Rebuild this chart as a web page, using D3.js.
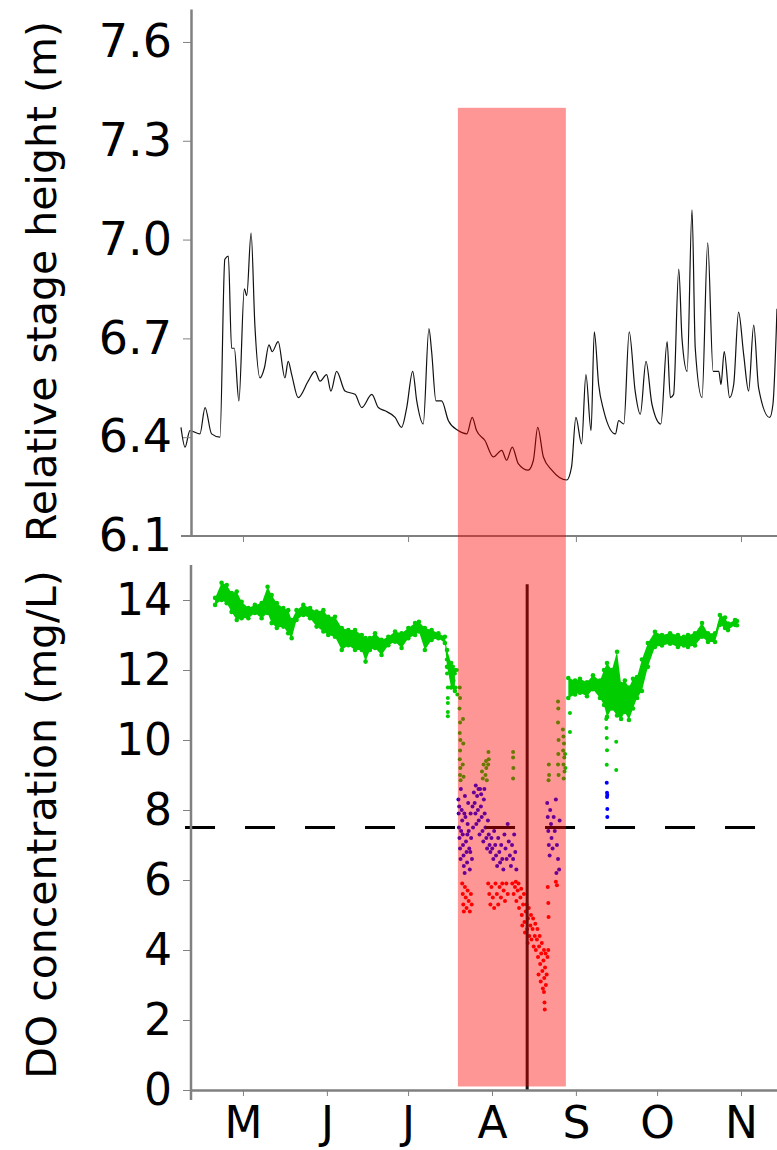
<!DOCTYPE html>
<html>
<head>
<meta charset="utf-8">
<script src="https://cdn.jsdelivr.net/npm/d3@7"></script>
<style>
  body { margin: 0; background: #fff; }
  svg { display: block; }
  .axis text { font-family: 'DejaVu Sans', sans-serif; fill: #000; }
  .axis path, .axis line { stroke: #808080; }
</style>
</head>
<body>
<div id="chart"></div>
<script>
// day of year (2015) and relative stage height (m)
const stageSeries = [
  [98.1, 6.43], [99.6, 6.37], [101.4, 6.42], [105.1, 6.41], [107.0, 6.49], [109.4, 6.41],
  [112.5, 6.40], [114.3, 6.94], [115.6, 6.95], [116.8, 6.67], [117.8, 6.67], [119.5, 6.51],
  [121.5, 6.85], [122.4, 6.83], [124.0, 7.02], [125.4, 6.74], [127.3, 6.58], [128.9, 6.61],
  [130.6, 6.68], [131.8, 6.66], [134.0, 6.69], [136.5, 6.58], [137.7, 6.63], [139.0, 6.59],
  [141.4, 6.52], [145.1, 6.57], [147.6, 6.60], [149.5, 6.57], [151.9, 6.59], [153.5, 6.54],
  [155.6, 6.60], [158.7, 6.54], [162.4, 6.53], [164.9, 6.49], [168.6, 6.53], [171.0, 6.49],
  [173.5, 6.48], [177.2, 6.46], [179.6, 6.43], [181.5, 6.49], [183.7, 6.60], [185.2, 6.51],
  [187.6, 6.44], [189.7, 6.73], [190.7, 6.66], [192.3, 6.51], [194.4, 6.51], [196.9, 6.45],
  [200.5, 6.42], [203.7, 6.41], [205.7, 6.46], [207.3, 6.42], [210.4, 6.39], [213.5, 6.34],
  [216.6, 6.36], [218.4, 6.33], [220.5, 6.37], [222.7, 6.32], [226.4, 6.30], [228.3, 6.33],
  [229.9, 6.43], [232.0, 6.34], [235.1, 6.30], [240.6, 6.27], [242.4, 6.31], [244.0, 6.46],
  [246.1, 6.38], [247.7, 6.59], [249.6, 6.42], [250.8, 6.72], [252.4, 6.56], [254.3, 6.48],
  [258.6, 6.41], [259.8, 6.45], [261.7, 6.44], [263.7, 6.72], [265.9, 6.54], [267.8, 6.47],
  [269.9, 6.63], [272.1, 6.50], [275.4, 6.44], [277.7, 6.69], [278.9, 6.52], [280.1, 6.53],
  [282.0, 6.91], [283.2, 6.70], [285.1, 6.60], [286.9, 7.09], [288.1, 6.67], [290.6, 6.52],
  [292.7, 6.99], [294.7, 6.60], [296.8, 6.60], [297.6, 6.56], [298.8, 6.66], [300.8, 6.52],
  [302.3, 6.56], [304.1, 6.78], [306.0, 6.65], [307.8, 6.54], [309.7, 6.74], [311.5, 6.55],
  [315.6, 6.46], [316.8, 6.50], [318.3, 6.79]
]

// dense DO readings: [day, low, high] (mg/L)
const doBandSpring = [
  [110.7, 13.86, 14.06], [113.1, 14.0, 14.49], [115.0, 13.91, 14.43], [116.8, 13.66, 14.2],
  [118.7, 13.43, 14.24], [120.5, 13.48, 13.95], [123.0, 13.48, 13.77], [125.4, 13.63, 13.86],
  [127.9, 13.48, 13.91], [130.1, 13.63, 14.38], [131.6, 13.34, 14.14], [133.5, 13.2, 13.91],
  [135.9, 13.24, 13.77], [137.7, 13.05, 13.71], [139.0, 12.91, 13.43], [140.8, 13.43, 13.71],
  [143.3, 13.57, 13.86], [145.8, 13.48, 13.77], [148.2, 13.24, 13.67], [150.7, 13.1, 13.71],
  [152.5, 13.0, 13.52], [155.0, 12.95, 13.52], [157.5, 12.57, 13.2], [159.9, 12.71, 13.14],
  [162.4, 12.57, 13.14], [164.9, 12.57, 13.0], [166.3, 12.24, 12.91], [167.9, 12.57, 12.91],
  [169.8, 12.63, 13.05], [172.2, 12.43, 12.86], [174.7, 12.71, 12.95], [177.2, 12.81, 13.1],
  [179.6, 12.63, 13.05], [182.1, 12.91, 13.2], [184.6, 13.0, 13.34], [186.0, 13.1, 13.38],
  [188.2, 12.57, 13.2], [190.7, 12.86, 13.14], [193.2, 12.91, 13.05], [195.6, 12.77, 12.95],
  [196.4, 12.09, 12.57], [197.9, 11.5, 12.2], [199.3, 11.4, 12.0]
]
const doBandAutumn = [
  [241.2, 11.2, 11.77], [243.7, 11.3, 11.7], [245.5, 11.35, 11.75], [248.1, 11.25, 11.65],
  [250.3, 11.45, 11.85], [252.9, 11.2, 11.7], [254.4, 11.0, 12.0], [255.5, 10.66, 12.2],
  [257.3, 10.9, 12.0], [259.2, 10.7, 12.52], [260.7, 10.6, 11.6], [262.1, 10.8, 11.7],
  [263.6, 10.57, 11.5], [265.1, 10.9, 11.75], [266.6, 11.2, 11.8], [268.4, 11.4, 12.3],
  [270.6, 12.09, 12.77], [273.2, 12.66, 13.09], [275.8, 12.7, 13.0], [278.8, 12.75, 13.05],
  [281.7, 12.66, 13.0], [283.9, 12.7, 12.95], [285.4, 12.66, 13.0], [288.0, 12.7, 13.05],
  [290.6, 12.95, 13.34], [292.8, 12.8, 13.05], [295.4, 12.8, 13.05], [297.2, 13.29, 13.57],
  [299.1, 13.2, 13.5], [300.2, 13.14, 13.33], [302.8, 13.29, 13.43], [303.5, 13.28, 13.4]
]

// individual DO readings: [day, mg/L]
const doScatter = [
  [196.3, 12.3], [196.4, 11.9], [196.7, 11.5], [196.7, 11.2], [196.7, 11.06], [196.7, 10.8],
  [196.7, 10.68], [198.6, 12.1], [198.8, 11.7], [199.3, 11.9], [199.6, 11.5], [200.0, 12.0], [200.2, 11.3],
  [201.1, 11.5], [201.2, 11.2], [201.0, 10.9], [201.2, 10.5], [201.1, 10.2], [201.3, 10.0],
  [201.2, 9.7], [201.1, 9.45], [201.3, 9.2], [201.2, 9.0], [201.4, 8.85], [202.3, 10.6],
  [202.4, 9.9], [202.2, 9.3], [202.5, 8.95], [209.3, 9.1], [209.6, 8.9], [210.8, 9.4],
  [210.9, 9.2], [210.6, 9.0], [211.1, 8.85], [211.7, 9.66], [211.8, 9.45], [211.6, 9.3], [209.9, 9.3],
  [220.8, 9.66], [220.8, 9.5], [220.9, 9.2], [220.8, 8.9], [234.0, 9.3], [234.1, 9.0], [233.9, 8.85],
  [237.4, 11.1], [237.5, 10.9], [237.4, 10.5], [237.6, 10.0], [237.5, 9.6], [237.4, 9.3], [237.6, 9.0],
  [239.2, 10.3], [239.4, 10.1], [239.6, 9.9], [239.3, 9.7], [239.7, 9.5], [239.4, 9.3], [239.8, 9.1],
  [239.5, 8.9], [240.0, 9.6], [240.1, 9.2],
  [200.6, 8.3], [200.7, 7.9], [200.8, 7.5], [201.0, 7.2], [201.2, 6.9], [201.4, 6.6], [201.5, 8.6],
  [201.8, 8.0], [202.0, 7.7], [202.2, 7.3], [202.3, 7.0], [202.5, 6.7], [202.6, 6.4], [202.9, 6.2],
  [203.0, 8.4], [203.2, 7.8], [203.4, 7.1], [203.6, 6.8], [203.8, 6.5], [204.0, 7.6], [204.2, 8.2],
  [204.4, 7.4], [204.6, 6.9], [204.8, 6.3], [205.1, 7.9], [205.3, 7.2], [205.6, 6.6], [205.8, 8.1],
  [206.0, 7.5], [200.9, 8.1], [201.6, 7.4], [202.8, 7.9], [203.9, 7.3], [205.0, 6.8],
  [206.3, 8.5], [206.6, 8.2], [206.9, 7.9], [207.2, 7.6], [207.5, 8.4], [207.8, 8.0], [208.1, 7.7],
  [208.4, 7.3], [208.6, 8.6], [208.9, 8.1], [209.2, 7.8], [209.5, 7.4], [209.8, 7.1], [210.0, 8.3],
  [210.3, 7.9], [210.6, 7.5], [210.9, 7.2], [211.2, 6.9], [211.5, 7.7], [211.8, 7.3], [212.1, 7.0],
  [212.4, 6.8], [207.0, 8.7], [208.0, 8.6], [209.0, 8.45], [210.2, 8.6],
  [212.8, 7.2], [213.1, 6.9], [213.5, 6.6], [213.8, 7.4], [214.2, 7.0], [214.5, 6.7], [214.9, 6.4],
  [215.3, 7.2], [215.7, 6.8], [216.0, 6.5], [216.4, 7.0], [216.8, 6.6], [217.2, 6.3], [217.6, 7.3],
  [218.0, 6.9], [218.4, 6.6], [218.8, 7.6], [219.2, 7.1], [219.6, 6.7], [220.0, 6.4], [220.4, 7.0],
  [220.8, 6.6], [221.2, 7.3], [221.6, 6.8], [222.0, 6.3],
  [233.4, 8.2], [233.6, 7.8], [233.8, 7.4], [234.0, 7.0], [234.3, 6.7], [234.5, 8.0], [234.8, 7.6],
  [235.0, 7.2], [235.4, 6.9], [235.8, 7.8], [236.2, 7.4], [236.6, 8.3], [237.0, 7.0], [237.4, 6.6],
  [237.8, 6.3], [238.0, 7.7], [236.8, 6.2],
  [202.0, 5.9], [202.2, 5.6], [202.4, 5.3], [202.6, 5.1], [203.0, 5.8], [203.3, 5.5], [203.6, 5.2],
  [204.0, 5.7], [204.4, 5.4], [204.8, 5.1], [205.2, 5.6], [205.5, 5.3],
  [211.6, 5.9], [212.0, 5.6], [212.4, 5.3], [212.8, 5.8], [213.3, 5.5], [213.8, 5.2], [214.3, 5.9],
  [214.8, 5.6], [215.3, 5.3], [215.8, 5.8], [216.3, 5.5], [216.8, 5.9], [217.3, 5.7], [217.8, 5.4],
  [218.3, 5.9], [218.8, 5.6],
  [220.5, 5.9], [221.0, 5.6], [221.5, 5.8], [222.0, 5.4], [222.5, 5.7], [223.0, 5.2], [223.5, 5.5],
  [224.0, 5.0], [224.5, 5.3], [225.0, 4.8], [225.5, 5.1], [226.0, 4.6], [226.3, 4.9], [226.8, 4.4],
  [227.2, 4.7], [227.6, 4.3], [228.0, 4.6], [228.4, 4.1], [228.8, 4.4], [229.2, 4.0], [229.6, 4.3],
  [230.0, 3.8], [230.4, 4.1], [230.8, 3.6], [231.2, 3.9], [231.6, 3.4], [232.0, 3.7], [232.3, 3.2],
  [232.6, 3.5], [232.9, 3.0], [232.2, 2.8], [232.4, 2.5], [232.5, 2.3], [233.2, 3.3], [233.5, 3.8],
  [233.8, 4.0], [221.8, 5.95], [222.8, 5.9], [223.8, 5.75], [224.8, 5.6], [225.8, 5.3], [226.6, 5.2],
  [227.4, 5.0], [228.2, 4.9], [229.0, 4.75], [229.8, 4.6], [230.6, 4.4], [231.4, 4.2], [232.2, 4.0],
  [232.8, 3.9], [230.2, 3.3], [231.0, 3.1], [231.8, 2.9], [224.2, 4.7], [225.2, 4.5], [226.2, 4.2],
  [233.6, 5.8], [233.8, 5.34], [233.9, 4.94], [236.6, 5.95], [237.0, 5.85],
  [255.4, 8.78], [255.5, 8.49], [255.6, 8.43], [255.5, 8.37], [255.6, 8.03], [255.6, 7.8],
  [241.8, 10.77], [241.8, 10.23], [255.3, 10.34], [255.4, 10.06], [255.5, 9.71], [255.4, 9.29],
  [258.9, 9.95], [258.9, 9.14], [255.2, 10.6], [256.0, 10.9]
]

const stageTicks = [6.1, 6.4, 6.7, 7.0, 7.3, 7.6]
const doTicks = [0, 2, 4, 6, 8, 10, 12, 14]
const monthDays = [121, 152, 182, 213, 244, 274, 305]
const monthLabels = ['M', 'J', 'J', 'A', 'S', 'O', 'N']
const stageMonthDays = [121, 182, 244, 305]

const doLimit = 7.5
const limitStart = 99.6
const eventDay = 226.0
const eventTop = 14.45
const hypoxiaStart = 200.4
const hypoxiaEnd = 240.3

const width = 777
const height = 1150
const dayToDate = d => new Date(Date.UTC(2015, 0, 1) + (d - 1) * 864e5)

const x = d3
  .scaleUtc()
  .domain([dayToDate(101.8), dayToDate(318.3)])
  .range([191, 777])
const xd = d => x(dayToDate(d))
const yStage = d3.scaleLinear().domain([6.1, 7.7]).range([536, 9])
const yDO = d3.scaleLinear().domain([0, 15]).range([1090, 565])
const doColor = d3
  .scaleThreshold()
  .domain([6, 8.8])
  .range(['#ff0000', '#0000ff', '#00cc00'])

const svg = d3
  .select('#chart')
  .append('svg')
  .attr('width', width)
  .attr('height', height)

// stage height line
const stageLine = d3
  .line()
  .x(d => xd(d[0]))
  .y(d => yStage(d[1]))
  .curve(d3.curveMonotoneX)

svg
  .append('path')
  .datum(stageSeries)
  .attr('d', stageLine)
  .attr('fill', 'none')
  .attr('stroke', '#111')
  .attr('stroke-width', 1.2)

// dense DO readings as a band with dotted edges
const band = d3
  .area()
  .x(d => xd(d[0]))
  .y0(d => yDO(d[1]))
  .y1(d => yDO(d[2]))

const bands = [doBandSpring, doBandAutumn]
bands.forEach(b => {
  svg
    .append('path')
    .datum(b)
    .attr('d', band)
    .attr('fill', '#00cc00')
  svg
    .append('g')
    .selectAll('circle')
    .data(b.flatMap(d => [[d[0], d[1]], [d[0], d[2]]]))
    .join('circle')
    .attr('cx', d => xd(d[0]))
    .attr('cy', d => yDO(d[1]))
    .attr('r', 2.3)
    .attr('fill', '#00cc00')
})

svg
  .append('g')
  .selectAll('circle')
  .data(doScatter)
  .join('circle')
  .attr('cx', d => xd(d[0]))
  .attr('cy', d => yDO(d[1]))
  .attr('r', 2)
  .attr('fill', d => doColor(d[1]))

// 7.5 mg/L limit
svg
  .append('line')
  .attr('x1', xd(limitStart))
  .attr('x2', x.range()[1])
  .attr('y1', yDO(doLimit))
  .attr('y2', yDO(doLimit))
  .attr('stroke', '#000')
  .attr('stroke-width', 3)
  .attr('stroke-dasharray', '30,30')

// event marker
svg
  .append('line')
  .attr('x1', xd(eventDay))
  .attr('x2', xd(eventDay))
  .attr('y1', yDO(0))
  .attr('y2', yDO(eventTop))
  .attr('stroke', '#111')
  .attr('stroke-width', 3)

// axes
const x0 = x.range()[0]

svg
  .append('g')
  .attr('class', 'axis')
  .attr('transform', `translate(${x0},0)`)
  .call(
    d3
      .axisLeft(yStage)
      .tickValues(stageTicks)
      .tickFormat(d3.format('.1f'))
      .tickSize(8)
      .tickSizeOuter(0)
      .tickPadding(11)
  )
  .call(g => g.select('.domain').attr('stroke-width', 2.5))
  .call(g => g.selectAll('text').attr('font-size', 46))

svg
  .append('g')
  .attr('class', 'axis')
  .attr('transform', `translate(0,${yStage(6.1)})`)
  .call(
    d3
      .axisBottom(x)
      .tickValues(stageMonthDays.map(dayToDate))
      .tickFormat('')
      .tickSize(6)
      .tickSizeOuter(0)
  )
  .call(g => g.select('.domain').attr('stroke-width', 2).attr('d', `M${x0 - 10},0H${x.range()[1]}`))

svg
  .append('g')
  .attr('class', 'axis')
  .attr('transform', `translate(${x0},0)`)
  .call(
    d3
      .axisLeft(yDO)
      .tickValues(doTicks)
      .tickSize(8)
      .tickSizeOuter(0)
      .tickPadding(11)
  )
  .call(g => g.select('.domain').attr('stroke-width', 2.5).attr('d', `M0,${yDO(15)}V${yDO(0) + 10}`))
  .call(g => g.selectAll('text').attr('font-size', 44))

svg
  .append('g')
  .attr('class', 'axis')
  .attr('transform', `translate(0,${yDO(0)})`)
  .call(
    d3
      .axisBottom(x)
      .tickValues(monthDays.map(dayToDate))
      .tickFormat((d, i) => monthLabels[i])
      .tickSize(6)
      .tickSizeOuter(0)
      .tickPadding(11)
  )
  .call(g => g.select('.domain').attr('stroke-width', 2.5))
  .call(g => g.selectAll('text').attr('font-size', 44))

// axis titles
svg
  .append('text')
  .attr('transform', `translate(56,${(yStage(6.1) + yStage(7.7)) / 2 + 9}) rotate(-90)`)
  .attr('text-anchor', 'middle')
  .attr('font-family', 'DejaVu Sans, sans-serif')
  .attr('font-size', 41)
  .text('Relative stage height (m)')

svg
  .append('text')
  .attr('transform', `translate(56,${(yDO(0) + yDO(15)) / 2 - 3}) rotate(-90)`)
  .attr('text-anchor', 'middle')
  .attr('font-family', 'DejaVu Sans, sans-serif')
  .attr('font-size', 41)
  .text('DO concentration (mg/L)')

// hypoxic period shading, drawn over everything
svg
  .append('rect')
  .attr('x', xd(hypoxiaStart))
  .attr('width', xd(hypoxiaEnd) - xd(hypoxiaStart))
  .attr('y', yStage(7.4))
  .attr('height', yDO(0.1) - yStage(7.4))
  .attr('fill', 'rgba(255,0,0,0.41)')
</script>
</body>
</html>
